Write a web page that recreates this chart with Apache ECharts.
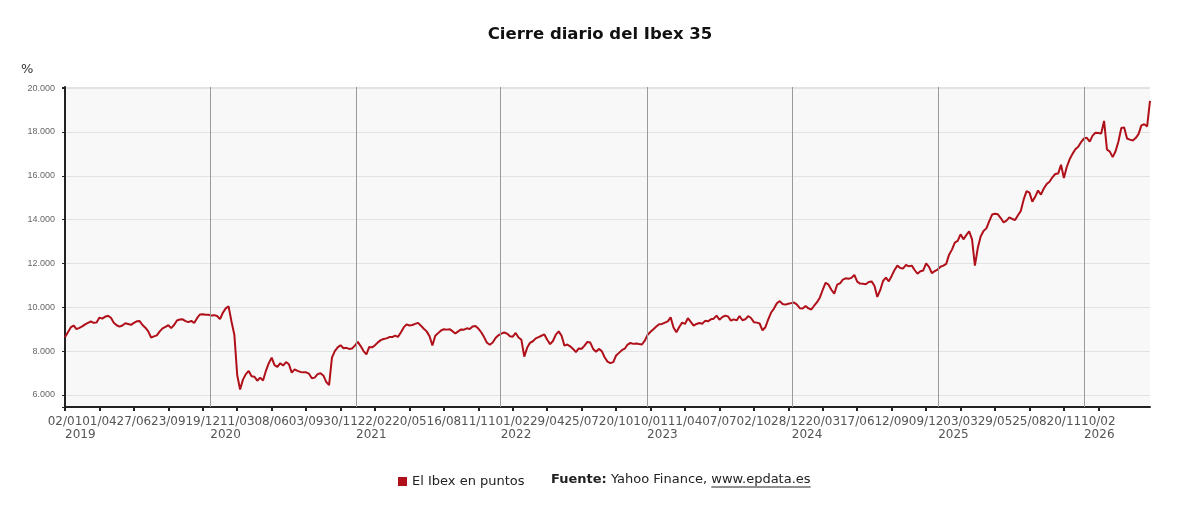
<!DOCTYPE html>
<html lang="es">
<head>
<meta charset="utf-8">
<title>Cierre diario del Ibex 35</title>
<script src="https://cdn.jsdelivr.net/npm/echarts@6.0.0/dist/echarts.min.js"></script>
<style>
  html, body { margin: 0; padding: 0; background: #fff; }
  #chart { width: 1200px; height: 515px; }
</style>
</head>
<body>
<div id="chart"></div>
<script>
const FONT = '"DejaVu Sans", Verdana, sans-serif';

// one close read every 5 trading sessions, starting 02/01/2019
const SESSIONS_PER_POINT = 5;
const LAST_SESSION = 1890;

// x labels: one every 60 sessions (dd/mm)
const tickLabels = [
  '02/01', '01/04', '27/06', '23/09', '19/12', '11/03', '08/06', '03/09',
  '30/11', '22/02', '20/05', '16/08', '11/11', '01/02', '29/04', '25/07',
  '20/10', '10/01', '11/04', '07/07', '02/10', '28/12', '20/03', '17/06',
  '12/09', '09/12', '03/03', '29/05', '25/08', '20/11', '10/02'
];
const TICK_STEP = 60;

const years = ['2019', '2020', '2021', '2022', '2023', '2024', '2025', '2026'];
const yearFirstSession = [0, 253, 507, 759, 1014, 1266, 1521, 1775];

// El Ibex en puntos
const closes = [
  // 2019
  8630, 8860, 9080, 9170, 9000, 9060, 9130, 9220, 9290, 9350,
  9290, 9300, 9530, 9480, 9570, 9610, 9520, 9290, 9180, 9120,
  9170, 9270, 9240, 9200, 9290, 9360, 9370, 9190, 9070, 8900,
  8620, 8670, 8720, 8900, 9040, 9110, 9180, 9050, 9190, 9400,
  9440, 9450, 9370, 9320, 9380, 9280, 9500, 9670, 9680, 9660,
  // 2020
  9660, 9620, 9640, 9600, 9460, 9750, 9950, 10040, 9350, 8750,
  6900, 6250, 6700, 6950, 7090, 6850, 6830, 6650, 6790, 6660,
  7100, 7450, 7700, 7360, 7280, 7450, 7340, 7500, 7400, 7020,
  7170, 7100, 7050, 7030, 7030, 6970, 6760, 6790, 6950, 6990,
  6890, 6600, 6450, 7700, 8000, 8170, 8270, 8130, 8150, 8100,
  // 2021
  8120, 8250, 8420, 8230, 8000, 7850, 8190, 8170, 8270, 8400,
  8500, 8550, 8580, 8640, 8640, 8710, 8650, 8850, 9080, 9220,
  9170, 9190, 9240, 9290, 9160, 9020, 8900, 8680, 8260, 8700,
  8820, 8940, 9000, 8980, 9000, 8910, 8800, 8900, 8990, 8980,
  9040, 9010, 9120, 9150, 9030, 8860, 8640, 8380, 8290, 8390,
  8600, 8720,
  // 2022
  8800, 8850, 8800, 8680, 8660, 8830, 8620, 8520, 7750, 8150,
  8380, 8450, 8580, 8640, 8700, 8760, 8520, 8320, 8460, 8750,
  8900, 8700, 8250, 8300, 8220, 8100, 7950, 8120, 8110, 8250,
  8420, 8390, 8100, 7970, 8100, 8000, 7720, 7520, 7450, 7500,
  7800, 7920, 8040, 8110, 8300, 8370, 8330, 8350, 8320, 8300,
  8480,
  // 2023
  8750, 8880, 9000, 9120, 9230, 9240, 9300, 9360, 9540, 9080,
  8860, 9100, 9300, 9240, 9500, 9330, 9160, 9240, 9280, 9250,
  9380, 9360, 9450, 9480, 9620, 9430, 9550, 9620, 9580, 9390,
  9450, 9400, 9600, 9410, 9450, 9600, 9510, 9320, 9300, 9260,
  8950, 9090, 9450, 9760, 9940, 10180, 10280, 10150, 10120, 10160,
  10190,
  // 2024
  10220, 10120, 9960, 9940, 10060, 9950, 9900, 10070, 10230, 10450,
  10800, 11120, 11030, 10800, 10620, 11030, 11090, 11260, 11320, 11300,
  11340, 11480, 11170, 11080, 11070, 11050, 11150, 11180, 10980, 10470,
  10780, 11200, 11350, 11180, 11430, 11700, 11900, 11790, 11770, 11930,
  11870, 11900, 11700, 11530, 11640, 11680, 12000, 11840, 11560, 11650,
  11720,
  // 2025
  11850, 11900, 11980, 12400, 12630, 12950, 13030, 13330, 13100, 13290,
  13470, 13100, 11900, 12700, 13230, 13480, 13600, 13930, 14230, 14270,
  14240, 14070, 13870, 13950, 14100, 14030, 13980, 14200, 14400, 14920,
  15300, 15230, 14820, 15040, 15330, 15140, 15420, 15620, 15730, 15930,
  16080, 16100, 16500, 15900, 16400, 16750, 17000, 17210, 17320, 17540,
  // 2026
  17700, 17730, 17560, 17830, 17960, 17950, 17930, 18500, 17200, 17100,
  16850, 17120, 17560, 18180, 18200, 17700, 17650, 17610, 17720, 17900,
  18300, 18350, 18250, 19420
];

const seriesName = 'El Ibex en puntos';
const sourceBold = 'Fuente:';
const sourceText = ' Yahoo Finance, ';
const sourceLink = 'www.epdata.es';

function thousands(v) {
  return String(v).replace(/\B(?=(\d{3})+(?!\d))/g, '.');
}

function textWidth(str, font) {
  const ctx = document.createElement('canvas').getContext('2d');
  ctx.font = font;
  return ctx.measureText(str).width;
}

const tickValues = tickLabels.map((_, i) => i * TICK_STEP);
const points = closes.map((v, i) => [i * SESSIONS_PER_POINT, v]);

const srcX = 551;
const srcY = 480;
const boldW = textWidth(sourceBold, 'bold 13px ' + FONT);
const midW = textWidth(sourceText, '13px ' + FONT);
const linkW = textWidth(sourceLink, '13px ' + FONT);

const chart = echarts.init(document.getElementById('chart'), null, { renderer: 'canvas' });

const option = {
  animation: false,
  backgroundColor: '#fff',
  textStyle: { fontFamily: FONT },
  title: {
    text: 'Cierre diario del Ibex 35',
    left: 'center',
    top: 21,
    textStyle: { fontFamily: FONT, fontSize: 16.5, fontWeight: 'bold', color: '#111' }
  },
  legend: {
    data: [seriesName],
    left: 393,
    top: 470,
    icon: 'rect',
    itemWidth: 9,
    itemHeight: 9,
    itemGap: 5,
    textStyle: { fontFamily: FONT, fontSize: 13, color: '#222' }
  },
  grid: {
    left: 65,
    right: 50,
    top: 87,
    bottom: 108,
    show: true,
    backgroundColor: '#f8f8f8',
    borderWidth: 0
  },
  xAxis: [
    {
      type: 'value',
      min: 0,
      max: LAST_SESSION,
      axisLine: { show: true, lineStyle: { color: '#222', width: 2 } },
      axisTick: { show: true, length: 4, customValues: tickValues, lineStyle: { color: '#222', width: 2 } },
      axisLabel: {
        customValues: tickValues,
        formatter: v => tickLabels[Math.round(v / TICK_STEP)] || '',
        margin: 9,
        fontFamily: FONT,
        fontSize: 12,
        color: '#555'
      },
      splitLine: { show: false }
    },
    {
      type: 'value',
      position: 'bottom',
      min: 0,
      max: LAST_SESSION,
      axisLine: { show: false },
      axisTick: { show: false },
      axisLabel: {
        customValues: yearFirstSession,
        formatter: v => years[yearFirstSession.indexOf(v)] || '',
        align: 'left',
        margin: 22,
        fontFamily: FONT,
        fontSize: 12,
        color: '#555'
      },
      splitLine: { show: false }
    }
  ],
  yAxis: {
    type: 'value',
    min: 5450,
    max: 20050,
    splitNumber: 7,
    axisLine: { show: true, lineStyle: { color: '#222', width: 2 } },
    axisTick: { show: true, length: 3, lineStyle: { color: '#222' } },
    axisLabel: {
      formatter: v => (v % 2000 === 0 ? thousands(v) : ''),
      margin: 10,
      fontFamily: '"Liberation Sans", Arial, sans-serif',
      fontSize: 9,
      color: '#666'
    },
    splitLine: { lineStyle: { color: '#e2e2e2', width: 1 } }
  },
  graphic: [
    {
      type: 'text',
      x: 21,
      y: 70,
      style: { text: '%', fontFamily: FONT, fontSize: 13, fill: '#333', verticalAlign: 'middle' }
    },
    {
      type: 'text',
      x: srcX,
      y: srcY,
      style: {
        text: '{b|' + sourceBold + '}' + sourceText + sourceLink,
        fontFamily: FONT,
        fontSize: 13,
        fill: '#222',
        verticalAlign: 'middle',
        rich: { b: { fontFamily: FONT, fontSize: 13, fontWeight: 'bold', fill: '#222' } }
      }
    },
    {
      type: 'line',
      shape: {
        x1: srcX + boldW + midW,
        y1: srcY + 7,
        x2: srcX + boldW + midW + linkW,
        y2: srcY + 7
      },
      style: { stroke: '#222', lineWidth: 1 }
    }
  ],
  series: [
    {
      name: seriesName,
      type: 'line',
      data: points,
      showSymbol: false,
      symbol: 'none',
      color: '#b0101a',
      lineStyle: { color: '#b0101a', width: 2 },
      markLine: {
        silent: true,
        symbol: 'none',
        label: { show: false },
        lineStyle: { color: '#9a9a9a', width: 1, type: 'solid' },
        data: yearFirstSession.slice(1).map(s => ({ xAxis: s }))
      },
      z: 3
    }
  ]
};

chart.setOption(option);

window.addEventListener('resize', function () {
  chart.resize();
});
</script>
</body>
</html>
